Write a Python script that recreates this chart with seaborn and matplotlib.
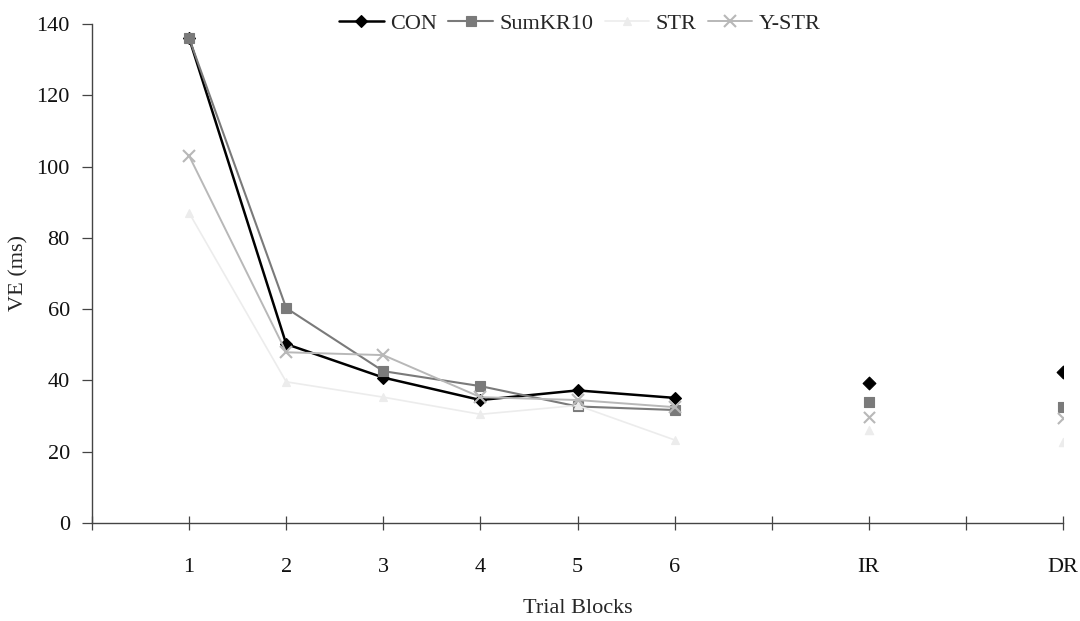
import numpy as np
import pandas as pd
import matplotlib
matplotlib.use("Agg")
import matplotlib.pyplot as plt
import seaborn as sns

# ---- data ----
tick_labels = ["", "1", "2", "3", "4", "5", "6", "", "IR", "", "DR"]
point_labels = ["1", "2", "3", "4", "5", "6", "IR", "DR"]
series_names = ["CON", "SumKR10", "STR", "Y-STR"]
con     = [136.0, 50.2, 40.8, 34.5, 37.2, 35.1, 39.3, 42.3]
sumkr10 = [136.0, 60.3, 42.6, 38.4, 32.7, 31.7, 34.0, 32.6]
str_    = [87.0, 39.6, 35.3, 30.5, 33.0, 23.3, 26.2, 22.8]
ystr    = [103.0, 47.9, 47.1, 35.3, 34.5, 32.5, 29.8, 29.4]
values = {"CON": con, "SumKR10": sumkr10, "STR": str_, "Y-STR": ystr}

colors = {"CON": "#000000", "SumKR10": "#7a7a7a", "STR": "#ececec", "Y-STR": "#b8b8b8"}
markers = {"CON": "D", "SumKR10": "s", "STR": "^", "Y-STR": "x"}
msizes = {"CON": 6.5, "SumKR10": 7.5, "STR": 6, "Y-STR": 8}
lws = {"CON": 1.8, "SumKR10": 1.5, "STR": 1.2, "Y-STR": 1.4}

pos_map = {lab: i for i, lab in enumerate(tick_labels) if lab}

rows = []
for name in series_names:
    for lab, v in zip(point_labels, values[name]):
        rows.append({"series": name, "label": lab, "x": pos_map[lab], "VE": v,
                     "phase": "acq" if lab.isdigit() else "ret"})
df = pd.DataFrame(rows)

sns.set_theme(style="white")
plt.rcParams["font.family"] = ["Liberation Serif", "DejaVu Serif"]

fig = plt.figure(figsize=(10.8, 6.21), dpi=100)
ax = fig.add_axes([0.0852, 0.1578, 0.8991, 0.8036])

handles = []
for name in series_names:
    mew = 1.5 if markers[name] == "x" else 0.8
    sub = df[(df.series == name) & (df.phase == "acq")]
    sns.lineplot(data=sub, x="x", y="VE", ax=ax, color=colors[name], lw=lws[name],
                 marker=markers[name], markersize=msizes[name], markeredgecolor=colors[name],
                 markeredgewidth=mew, label=name, legend=False)
    sub2 = df[(df.series == name) & (df.phase == "ret")]
    sns.scatterplot(data=sub2, x="x", y="VE", ax=ax, color=colors[name], marker=markers[name],
                    s=msizes[name] ** 2, edgecolor=colors[name],
                    linewidth=mew, legend=False, zorder=3)
    handles.append(plt.Line2D([], [], color=colors[name], lw=lws[name], marker=markers[name],
                              markersize=msizes[name], markeredgecolor=colors[name],
                              markeredgewidth=mew))

ax.set_xlim(0, len(tick_labels) - 1)
ax.set_ylim(0, 140)
ax.set_xticks(range(len(tick_labels)))
ax.set_xticklabels(tick_labels)
ax.set_yticks(np.arange(0, 141, 20))
ax.tick_params(axis="x", direction="inout", length=10, width=0.9, color="#444444",
               labelsize=16, pad=20, bottom=True)
ax.tick_params(axis="y", direction="out", length=7, width=0.9, color="#444444",
               labelsize=16, pad=9, left=True)
for s in ["top", "right"]:
    ax.spines[s].set_visible(False)
for s in ["left", "bottom"]:
    ax.spines[s].set_color("#444444")
    ax.spines[s].set_linewidth(1.0)
ax.set_xlabel("Trial Blocks", fontsize=16, labelpad=16)
ax.set_ylabel("VE (ms)", fontsize=16, labelpad=6)

leg = fig.legend(handles, series_names, loc="center", bbox_to_anchor=(0.537, 0.962), ncol=4,
                 frameon=False, fontsize=16, handlelength=2.0, handletextpad=0.3,
                 columnspacing=0.5)
for lab in ax.get_xticklabels() + ax.get_yticklabels():
    lab.set_color("#111111")

fig.savefig("out.png", dpi=100)
